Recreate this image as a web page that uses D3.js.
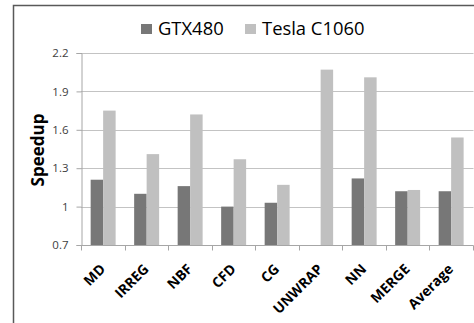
<!DOCTYPE html>
<html><head><meta charset="utf-8">
<script src="https://cdn.jsdelivr.net/npm/d3@7"></script>
<style>
html,body{margin:0;padding:0;background:#fff;}
svg{display:block;}
text{font-family:"Open Sans",sans-serif;}
</style></head>
<body>
<svg id="chart" width="474" height="323"></svg>
<script>
const categories = ["MD","IRREG","NBF","CFD","CG","UNWRAP","NN","MERGE","Average"];
const seriesNames = ["GTX480","Tesla C1060"];
const gtx480 = [1.21,1.10,1.16,1.00,1.03,null,1.22,1.12,1.12];
const teslaC1060 = [1.75,1.41,1.72,1.37,1.17,2.07,2.01,1.13,1.54];
const yTicks = [0.7,1,1.3,1.6,1.9,2.2];
const colors = ["#777777","#c0c0c0"];

const svg = d3.select("#chart");
// outer chart border
svg.append("rect").attr("x",13.5).attr("y",5.5).attr("width",480).attr("height",340)
  .attr("fill","none").attr("stroke","#595959").attr("stroke-width",1.5);

const pL = 81, pR = 472.5, pT = 53, pB = 245;
const x0 = d3.scaleBand().domain(categories).range([pL,pR]).padding(0);
const bw = x0.bandwidth();
const x1 = d3.scaleBand().domain(seriesNames).range([bw*0.222, bw*0.796]).padding(0);
const y = d3.scaleLinear().domain([0.7,2.2]).range([pB,pT]);

// gridlines
svg.append("g").selectAll("line").data(yTicks.filter(t=>t>0.7)).join("line")
  .attr("x1",pL).attr("x2",pR+1).attr("y1",d=>Math.round(y(d))+0.5).attr("y2",d=>Math.round(y(d))+0.5)
  .attr("stroke","#c3c3c3").attr("stroke-width",1);

// bars
const data = [gtx480, teslaC1060];
const g = svg.append("g");
categories.forEach((c,i)=>{
  seriesNames.forEach((s,j)=>{
    const v = data[j][i];
    if (v==null) return;
    g.append("rect").attr("x",x0(c)+x1(s)).attr("width",x1.bandwidth())
      .attr("y",y(v)).attr("height",y(0.7)-y(v)).attr("fill",colors[j]);
  });
});

// y axis
const yAxis = d3.axisLeft(y).tickValues(yTicks).tickSize(5).tickPadding(8)
  .tickFormat(d=>String(d));
const ya = svg.append("g").attr("transform",`translate(${pL+0.5},0)`).call(yAxis);
ya.selectAll("path,line").attr("stroke","#a6a6a6");
ya.selectAll("text").attr("font-size","11.5px").attr("fill","#404040").attr("font-family","'Open Sans',sans-serif");

// x axis
const xa = svg.append("g").attr("transform",`translate(0,${Math.round(pB)+0.5})`);
xa.append("line").attr("x1",pL).attr("x2",pR+1).attr("stroke","#a6a6a6");
xa.selectAll("line.tk").data(d3.range(categories.length+1)).join("line").attr("class","tk")
  .attr("x1",i=>Math.round(pL+i*bw)+0.5).attr("x2",i=>Math.round(pL+i*bw)+0.5)
  .attr("y1",0).attr("y2",5).attr("stroke","#a6a6a6");
xa.selectAll("text").data(categories).join("text")
  .attr("transform",d=>`translate(${x0(d)+bw/2},21) rotate(-45)`)
  .attr("text-anchor","end").attr("dy","0.35em")
  .attr("font-size","14px").attr("font-weight","bold").attr("fill","#000")
  .text(d=>d);

// y title
svg.append("text").attr("transform","translate(44,150) rotate(-90)")
  .attr("text-anchor","middle").attr("font-size","17px").attr("font-weight","bold")
  .attr("fill","#000").text("Speedup");

// legend
const legendX = [141, 245];
const lg = svg.append("g");
seriesNames.forEach((s,j)=>{
  lg.append("rect").attr("x",legendX[j]).attr("y",24).attr("width",11).attr("height",10).attr("fill",colors[j]);
  lg.append("text").attr("x",legendX[j]+17).attr("y",35).attr("font-size","18.4px").attr("fill","#000").text(s);
});
</script>
</body></html>
